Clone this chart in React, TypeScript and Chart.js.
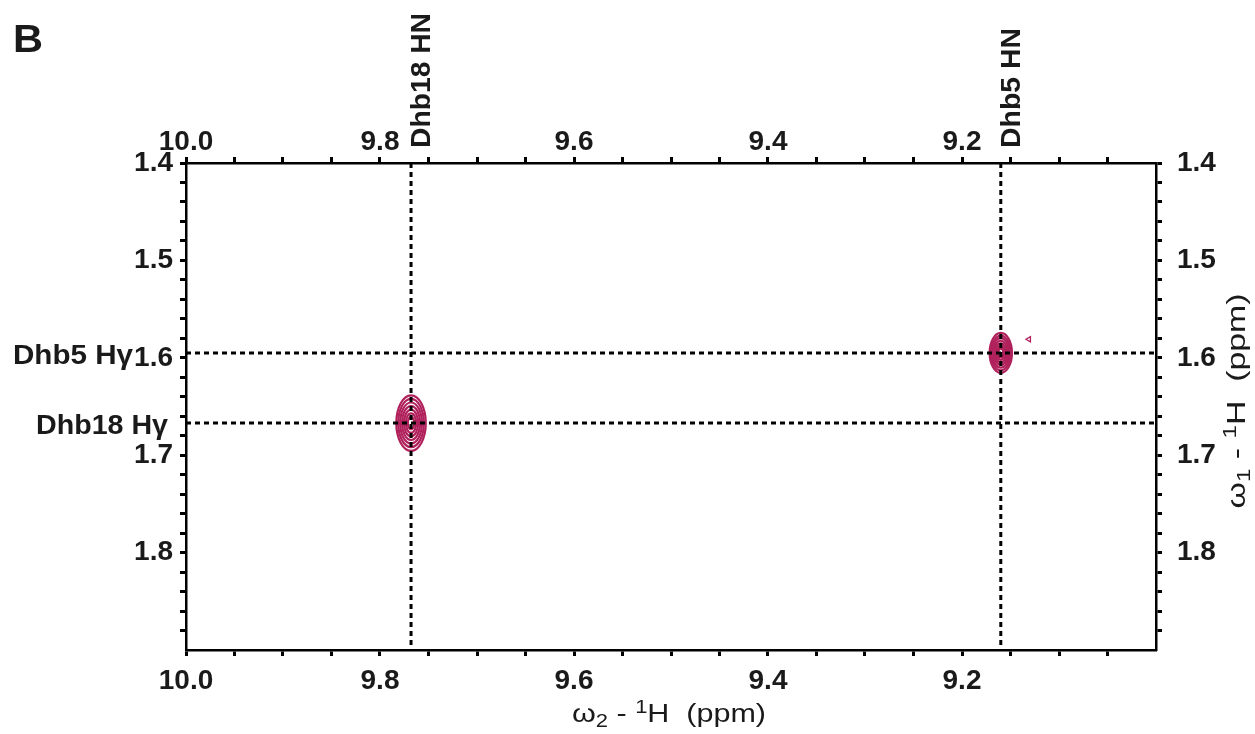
import React, { useEffect, useRef } from "react";
import { Chart, registerables } from "chart.js";

Chart.register(...registerables);

// ---- axis ranges (ppm) ----
const W2_MIN = 9.0;
const W2_MAX = 10.0;
const W1_MIN = 1.4;
const W1_MAX = 1.9;
const W2_STEP = 0.05;
const W1_STEP = 0.02;

// ---- tick labels ----
const w2TickLabels = [10.0, 9.8, 9.6, 9.4, 9.2];
const w1TickLabels = [1.4, 1.5, 1.6, 1.7, 1.8];

// ---- cross peaks ----
const peakNames = ["Dhb18", "Dhb5"];
const peakHN = [9.768, 9.16]; // ω2 (ppm)
const peakHG = [1.667, 1.595]; // ω1 (ppm)
const peakHalfWidthHN = [0.0152, 0.0115]; // outer contour half-width (ppm)
const peakHalfWidthHG = [0.0285, 0.0205];
const contourLevels = [1.0, 0.87, 0.74, 0.61, 0.48, 0.35, 0.22];

// small noise contour
const noiseHN = [9.131];
const noiseHG = [1.581];

// ---- assignment labels ----
const hnLabels = ["Dhb18 HN", "Dhb5 HN"];
const hgLabels = ["Dhb18 Hγ", "Dhb5 Hγ"];

const FONT = "'Liberation Sans', Arial, Helvetica, sans-serif";
const CONTOUR = "#b0215c";

function drawFitted(
  ctx: CanvasRenderingContext2D,
  text: string,
  x: number,
  y: number,
  font: string,
  align: CanvasTextAlign,
  width?: number,
  rotate?: number
) {
  ctx.save();
  ctx.translate(x, y);
  if (rotate) ctx.rotate(rotate);
  ctx.font = font;
  const w = ctx.measureText(text).width;
  const sx = width ? width / w : 1;
  ctx.scale(sx, 1);
  ctx.textAlign = align;
  ctx.textBaseline = "alphabetic";
  ctx.fillStyle = "#1a1a1a";
  ctx.fillText(text, 0, 0);
  ctx.restore();
}

type Part = { t: string; size: number; dy?: number };

function drawRich(
  ctx: CanvasRenderingContext2D,
  parts: Part[],
  cx: number,
  cy: number,
  target: number,
  rotate: number
) {
  ctx.save();
  ctx.translate(cx, cy);
  if (rotate) ctx.rotate(rotate);
  let total = 0;
  const widths = parts.map((p) => {
    ctx.font = `${p.size}px ${FONT}`;
    const w = ctx.measureText(p.t).width;
    total += w;
    return w;
  });
  const sx = target / total;
  ctx.scale(sx, 1);
  let x = -total / 2;
  ctx.textAlign = "left";
  ctx.textBaseline = "alphabetic";
  ctx.fillStyle = "#1a1a1a";
  parts.forEach((p, i) => {
    ctx.font = `${p.size}px ${FONT}`;
    ctx.fillText(p.t, x, p.dy || 0);
    x += widths[i];
  });
  ctx.restore();
}

const near = (v: number, arr: number[]) => arr.some((a) => Math.abs(a - v) < 1e-6);

export default function App() {
  const ref = useRef<HTMLCanvasElement | null>(null);

  useEffect(() => {
    if (!ref.current) return;

    const contourPlugin = {
      id: "contours",
      beforeDatasetsDraw(chart: any) {
        const { ctx, chartArea, scales } = chart;
        const xs = scales.x;
        const ys = scales.y;
        ctx.save();
        ctx.beginPath();
        ctx.rect(chartArea.left, chartArea.top, chartArea.right - chartArea.left, chartArea.bottom - chartArea.top);
        ctx.clip();
        ctx.strokeStyle = CONTOUR;
        ctx.lineWidth = 2.2;
        for (let i = 0; i < peakHN.length; i++) {
          const cx = xs.getPixelForValue(peakHN[i]);
          const cy = ys.getPixelForValue(peakHG[i]);
          const rx = Math.abs(xs.getPixelForValue(peakHN[i] + peakHalfWidthHN[i]) - cx);
          const ry = Math.abs(ys.getPixelForValue(peakHG[i] + peakHalfWidthHG[i]) - cy);
          contourLevels.forEach((lv) => {
            ctx.beginPath();
            ctx.ellipse(cx, cy, rx * lv, ry * lv, 0, 0, Math.PI * 2);
            ctx.stroke();
          });
        }
        ctx.restore();
      },
    };

    const textPlugin = {
      id: "texts",
      afterDraw(chart: any) {
        const { ctx, scales } = chart;
        const xs = scales.x;
        const ys = scales.y;
        // panel letter
        drawFitted(ctx, "B", 13, 52, `bold 39px ${FONT}`, "left", 30);
        // HN labels (rotated, above top axis)
        const hnLen = [135, 120];
        for (let i = 0; i < hnLabels.length; i++) {
          const px = xs.getPixelForValue(peakHN[i]);
          drawFitted(ctx, hnLabels[i], px + 19, 148, `bold 28px ${FONT}`, "left", hnLen[i], -Math.PI / 2);
        }
        // Hγ labels (left of left axis)
        const hgRight = [168, 133];
        const hgLen = [132, 120];
        for (let i = 0; i < hgLabels.length; i++) {
          const py = ys.getPixelForValue(peakHG[i]);
          drawFitted(ctx, hgLabels[i], hgRight[i], py + 11, `bold 28px ${FONT}`, "right", hgLen[i]);
        }
        // axis titles
        drawRich(
          ctx,
          [
            { t: "ω", size: 25 },
            { t: "2", size: 18, dy: 5 },
            { t: " - ", size: 25 },
            { t: "1", size: 18, dy: -9 },
            { t: "H  (ppm)", size: 25 },
          ],
          669,
          722,
          194,
          0
        );
        drawRich(
          ctx,
          [
            { t: "ω", size: 25 },
            { t: "1", size: 18, dy: 5 },
            { t: " - ", size: 25 },
            { t: "1", size: 18, dy: -9 },
            { t: "H  (ppm)", size: 25 },
          ],
          1245,
          401,
          215,
          -Math.PI / 2
        );
      },
    };

    const tickFont = { family: FONT, size: 28, weight: "bold" as const };
    const tickFontTop = { family: FONT, size: 28, weight: "bold" as const, lineHeight: 1 };

    const gridFor = (hideVal: number) => ({
      drawOnChartArea: false,
      drawTicks: true,
      tickLength: 6,
      tickWidth: 3,
      color: "#000",
      tickColor: (c: any) =>
        c.tick && Math.abs(c.tick.value - hideVal) < 1e-6 ? "rgba(0,0,0,0)" : "#000",
    });
    const border = { display: true, color: "#000", width: 2.5 };

    const xTicks = (pad: number, font: any) => ({
      stepSize: W2_STEP,
      autoSkip: false,
      maxRotation: 0,
      minRotation: 0,
      padding: pad,
      color: "#1a1a1a",
      font,
      callback: (v: any) => (near(Number(v), w2TickLabels) ? Number(v).toFixed(1) : ""),
    });
    const yTicks = (pad: number) => ({
      stepSize: W1_STEP,
      autoSkip: false,
      padding: pad,
      color: "#1a1a1a",
      font: tickFont,
      callback: (v: any) => (near(Number(v), w1TickLabels) ? Number(v).toFixed(1) : ""),
    });

    const datasets: any[] = [];
    for (let i = 0; i < peakHN.length; i++) {
      datasets.push({
        label: peakNames[i] + " HN",
        data: [
          { x: peakHN[i], y: W1_MIN },
          { x: peakHN[i], y: W1_MAX },
        ],
        showLine: true,
        borderColor: "#000",
        borderWidth: 3,
        borderDash: [5, 4],
        pointRadius: 0,
        xAxisID: "x",
        yAxisID: "y",
      });
      datasets.push({
        label: peakNames[i] + " Hγ",
        data: [
          { x: W2_MAX, y: peakHG[i] },
          { x: W2_MIN, y: peakHG[i] },
        ],
        showLine: true,
        borderColor: "#000",
        borderWidth: 3,
        borderDash: [5, 4],
        pointRadius: 0,
        xAxisID: "x",
        yAxisID: "y",
      });
    }
    datasets.push({
      label: "noise",
      data: noiseHN.map((x, i) => ({ x, y: noiseHG[i] })),
      showLine: false,
      pointStyle: "triangle",
      rotation: -90,
      pointRadius: 3,
      borderWidth: 1.3,
      borderColor: CONTOUR,
      backgroundColor: "rgba(0,0,0,0)",
      xAxisID: "x",
      yAxisID: "y",
    });

    const chart = new Chart(ref.current, {
      type: "scatter",
      data: { datasets },
      options: {
        animation: false,
        responsive: false,
        maintainAspectRatio: false,
        layout: { padding: 0 },
        plugins: { legend: { display: false }, tooltip: { enabled: false } },
        scales: {
          x: {
            type: "linear",
            position: "bottom",
            reverse: true,
            min: W2_MIN,
            max: W2_MAX,
            ticks: xTicks(8, tickFont),
            grid: gridFor(W2_MIN),
            border,
            afterFit: (s: any) => {
              s.height = 84;
            },
          },
          x2: {
            type: "linear",
            position: "top",
            reverse: true,
            min: W2_MIN,
            max: W2_MAX,
            ticks: xTicks(1, tickFontTop),
            grid: gridFor(W2_MIN),
            border,
            afterFit: (s: any) => {
              s.height = 163;
            },
          },
          y: {
            type: "linear",
            position: "left",
            reverse: true,
            min: W1_MIN,
            max: W1_MAX,
            ticks: yTicks(7),
            grid: gridFor(W1_MAX),
            border,
            afterFit: (s: any) => {
              s.width = 186;
            },
          },
          y2: {
            type: "linear",
            position: "right",
            reverse: true,
            min: W1_MIN,
            max: W1_MAX,
            ticks: yTicks(15),
            grid: gridFor(W1_MAX),
            border,
            afterFit: (s: any) => {
              s.width = 99;
            },
          },
        },
      } as any,
      plugins: [contourPlugin, textPlugin],
    });

    return () => chart.destroy();
  }, []);

  return (
    <div style={{ position: "fixed", left: 0, top: 0, width: 1255, height: 734, background: "#fff" }}>
      <canvas ref={ref} width={1255} height={734} style={{ display: "block" }} />
    </div>
  );
}
